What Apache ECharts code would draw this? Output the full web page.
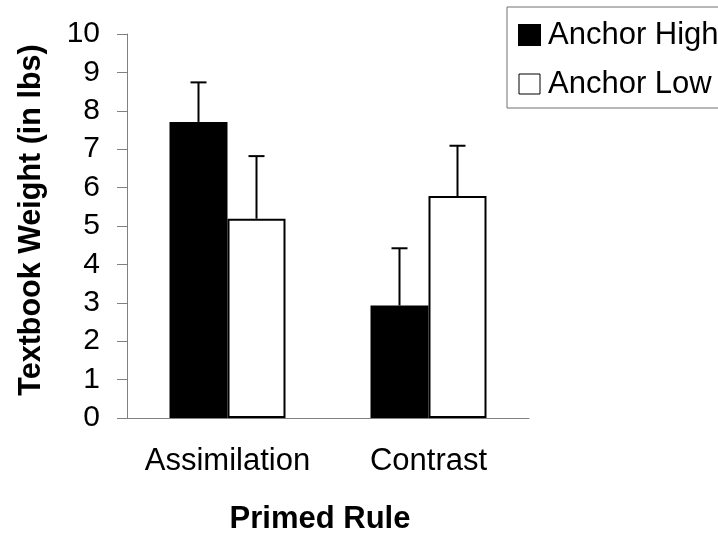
<!DOCTYPE html>
<html>
<head>
<meta charset="utf-8">
<script src="https://cdn.jsdelivr.net/npm/echarts@6/dist/echarts.min.js"></script>
<style>
html, body { margin: 0; padding: 0; background: #fff; }
#chart { width: 718px; height: 540px; }
</style>
</head>
<body>
<div id="chart"></div>
<script>
// 数据
var categories = ['Assimilation', 'Contrast'];
var seriesNames = ['Anchor High', 'Anchor Low'];
var meanHigh = [7.71, 2.93];
var meanLow = [5.19, 5.78];
var errHigh = [1.03, 1.49]; // 只画上误差线
var errLow = [1.63, 1.31];
var yMin = 0, yMax = 10, yStep = 1;

var fontName = 'Liberation Sans, Arial, sans-serif';
var axisGray = '#808080';
var barWidth = 58;
var capHalf = 8;

// 误差线,side = -1 左柱, 1 右柱
var errorBarSeries = function(name, means, errs, side) {
	var data = means.map(function(m, i) {
		return [i, m, m + errs[i]];
	});
	return {
		type : 'custom',
		name : name,
		z : 5,
		data : data,
		encode : { x : 0, y : [1, 2] },
		renderItem : function(params, api) {
			var base = api.coord([api.value(0), api.value(1)]);
			var top = api.coord([api.value(0), api.value(2)]);
			var x = top[0] + side * barWidth / 2;
			var style = { stroke : '#000', lineWidth : 2 };
			return {
				type : 'group',
				children : [
					{ type : 'line', shape : { x1 : x, y1 : base[1], x2 : x, y2 : top[1] }, style : style },
					{ type : 'line', shape : { x1 : x - capHalf, y1 : top[1], x2 : x + capHalf, y2 : top[1] }, style : style }
				]
			};
		}
	};
};

var myChart = echarts.init(document.getElementById('chart'));
var option = {
	animation : false,
	textStyle : { fontFamily : fontName },
	grid : {
		left : 127,
		right : 189,
		top : 34,
		bottom : 117
	},
	legend : {
		left : 507,
		top : 7,
		orient : 'vertical',
		padding : [11, 11, 7, 11],
		itemWidth : 21,
		itemHeight : 20,
		itemGap : 15,
		borderColor : '#707070',
		borderWidth : 1,
		textStyle : { fontSize : 31, color : '#000', lineHeight : 34, padding : [0, 0, 0, 3] },
		data : [
			{ name : seriesNames[0], icon : 'rect' },
			{ name : seriesNames[1], icon : 'rect', itemStyle : { borderWidth : 1, borderColor : '#000' } }
		]
	},
	xAxis : {
		type : 'category',
		data : categories,
		name : 'Primed Rule',
		nameLocation : 'middle',
		nameGap : 86,
		nameTextStyle : { fontSize : 31, fontWeight : 'bold', color : '#000', padding : [0, 16, 0, 0] },
		axisLine : { lineStyle : { color : axisGray, width : 1 } },
		axisTick : { show : false },
		axisLabel : { fontSize : 31, color : '#000', margin : 28, interval : 0, hideOverlap : false }
	},
	yAxis : {
		type : 'value',
		min : yMin,
		max : yMax,
		interval : yStep,
		name : 'Textbook Weight (in lbs)',
		nameLocation : 'middle',
		nameGap : 80,
		nameTextStyle : { fontSize : 30.5, fontWeight : 'bold', color : '#000', padding : [0, 0, 0, 12] },
		axisLine : { show : true, lineStyle : { color : axisGray, width : 1 } },
		axisTick : { show : true, length : 10, lineStyle : { color : axisGray } },
		splitLine : { show : false },
		axisLabel : { fontSize : 30, color : '#000', margin : 27 }
	},
	series : [
		{
			name : seriesNames[0],
			type : 'bar',
			data : meanHigh,
			barWidth : barWidth,
			barGap : '0%',
			itemStyle : { color : '#000', borderColor : '#000', borderWidth : 2 }
		},
		{
			name : seriesNames[1],
			type : 'bar',
			data : meanLow,
			barWidth : barWidth,
			barGap : '0%',
			itemStyle : { color : '#fff', borderColor : '#000', borderWidth : 2 }
		},
		errorBarSeries('errHigh', meanHigh, errHigh, -1),
		errorBarSeries('errLow', meanLow, errLow, 1)
	]
};
myChart.setOption(option);
</script>
</body>
</html>
